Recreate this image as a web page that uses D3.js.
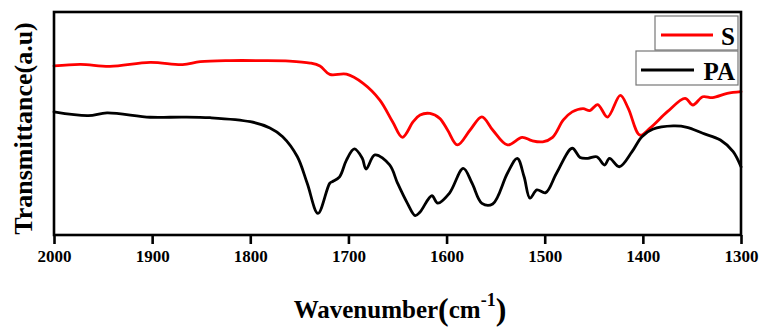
<!DOCTYPE html>
<html>
<head>
<meta charset="utf-8">
<script src="https://cdn.jsdelivr.net/npm/d3@7"></script>
<style>
  body { margin: 0; background: #fff; }
</style>
</head>
<body>
<div id="chart"></div>
<script>
// Wavenumber ticks (cm-1), reversed axis.
const xTicks = [2000, 1900, 1800, 1700, 1600, 1500, 1400, 1300];

// S spectrum: wavenumber / transmittance (a.u).
const sWave = [2000, 1973, 1943, 1902, 1869, 1851, 1821, 1790, 1760, 1739, 1729, 1719, 1702, 1685,
  1668, 1655, 1645, 1634, 1627, 1617, 1607, 1599, 1589, 1576, 1564, 1553, 1538, 1523, 1513, 1502,
  1492, 1481, 1472, 1461, 1454, 1446, 1436, 1423, 1415, 1403, 1393, 1375, 1357, 1349, 1339, 1329,
  1314, 1300];
const sTrans = [75.8, 76.5, 75.6, 77.4, 76.4, 77.7, 78.2, 78.2, 78.0, 77.1, 75.8, 72.0, 72.1, 68.0,
  60.5, 50.8, 43.8, 50.8, 53.8, 54.5, 52.3, 47.1, 40.4, 47.1, 53.0, 47.1, 40.4, 43.8, 42.3, 41.8,
  43.8, 51.6, 55.2, 56.7, 55.8, 58.5, 52.9, 62.6, 56.9, 44.8, 47.8, 55.3, 61.3, 58.3, 62.0, 61.6,
  63.5, 64.3];

// PA spectrum.
const paWave = [2000, 1965, 1946, 1902, 1869, 1841, 1800, 1780, 1767, 1752, 1742, 1731, 1719, 1716,
  1709, 1702, 1694, 1686, 1682, 1673, 1658, 1650, 1640, 1632, 1627, 1615, 1609, 1597, 1583, 1574,
  1564, 1553, 1538, 1528, 1521, 1515, 1508, 1499, 1488, 1472, 1464, 1456, 1447, 1439, 1434, 1424,
  1411, 1401, 1390, 1369, 1355, 1339, 1321, 1308, 1300];
const paTrans = [55.2, 53.5, 54.8, 52.8, 52.9, 52.6, 50.8, 48.0, 44.1, 35.1, 23.2, 9.7, 23.2, 24.0,
  26.1, 33.6, 38.6, 34.5, 29.6, 35.9, 31.4, 23.3, 14.3, 8.7, 10.3, 17.6, 14.3, 18.8, 29.9, 23.2,
  14.2, 13.9, 27.7, 34.4, 26.1, 16.5, 20.2, 19.0, 27.7, 38.9, 34.8, 34.4, 35.1, 31.4, 34.4, 30.6,
  37.4, 44.1, 47.4, 48.9, 48.3, 45.6, 42.6, 37.4, 30.6];

const seriesNames = ["S", "PA"];
const seriesColors = ["#ff0000", "#000000"];

const width = 761, height = 329;
const margin = { top: 12, right: 20, bottom: 94, left: 54 };
const serif = "'Liberation Serif', 'DejaVu Serif', serif";

const svg = d3.select("#chart").append("svg")
  .attr("width", width)
  .attr("height", height)
  .attr("font-family", serif)
  .attr("font-weight", "bold");

const x = d3.scaleLinear()
  .domain([2000, 1300])
  .range([margin.left, width - margin.right]);

const y = d3.scaleLinear()
  .domain([0, 100])
  .range([height - margin.bottom, margin.top]);

// Spectra lines.
const line = d3.line()
  .x(d => x(d[0]))
  .y(d => y(d[1]))
  .curve(d3.curveCatmullRom.alpha(0.5));

const series = [
  d3.zip(sWave, sTrans),
  d3.zip(paWave, paTrans)
];

svg.append("g")
  .selectAll("path")
  .data(series)
  .join("path")
    .attr("fill", "none")
    .attr("stroke", (d, i) => seriesColors[i])
    .attr("stroke-width", 2.8)
    .attr("stroke-linejoin", "round")
    .attr("stroke-linecap", "round")
    .attr("d", line);

// Frame around the plot.
svg.append("rect")
  .attr("x", margin.left)
  .attr("y", margin.top)
  .attr("width", width - margin.left - margin.right)
  .attr("height", height - margin.top - margin.bottom)
  .attr("fill", "none")
  .attr("stroke", "#000")
  .attr("stroke-width", 2.6);

// Bottom axis.
const xAxis = svg.append("g")
  .attr("transform", `translate(0,${height - margin.bottom})`)
  .call(d3.axisBottom(x).tickValues(xTicks).tickFormat(d3.format("d"))
    .tickSize(9).tickSizeOuter(0).tickPadding(6));

xAxis.attr("font-family", serif).attr("font-size", 17);
xAxis.select(".domain").remove();
xAxis.selectAll(".tick line").attr("stroke-width", 2.6);
xAxis.selectAll(".tick text").attr("fill", "#000");

// Axis titles.
const xTitle = svg.append("text")
  .attr("x", 400)
  .attr("y", 318)
  .attr("text-anchor", "middle")
  .attr("font-size", 25)
  .attr("fill", "#000");
xTitle.append("tspan").text("Wavenumber");
xTitle.append("tspan").attr("font-size", 32).attr("dy", 2).text("(");
xTitle.append("tspan").attr("dy", -2).text("cm");
xTitle.append("tspan").attr("font-size", 18).attr("dy", -12).text("-1");
xTitle.append("tspan").attr("font-size", 32).attr("dy", 14).text(")");

svg.append("text")
  .attr("transform", `translate(32,${(margin.top + height - margin.bottom) / 2 + 5}) rotate(-90)`)
  .attr("text-anchor", "middle")
  .attr("font-size", 26)
  .attr("fill", "#000")
  .text("Transmittance(a.u)");

// Legend boxes.
const legendBoxes = [
  { x0: 655, y0: 16, w: 83, h: 34, lx: 661, lw: 52 },
  { x0: 636, y0: 51, w: 102, h: 34, lx: 641, lw: 53 }
];

const legend = svg.append("g")
  .selectAll("g")
  .data(legendBoxes)
  .join("g");

legend.append("rect")
  .attr("x", d => d.x0)
  .attr("y", d => d.y0)
  .attr("width", d => d.w)
  .attr("height", d => d.h)
  .attr("fill", "#fff")
  .attr("stroke", "#777")
  .attr("stroke-width", 1.2);

legend.append("line")
  .attr("x1", d => d.lx)
  .attr("x2", d => d.lx + d.lw)
  .attr("y1", d => d.y0 + d.h / 2 + 2)
  .attr("y2", d => d.y0 + d.h / 2 + 2)
  .attr("stroke", (d, i) => seriesColors[i])
  .attr("stroke-width", 3);

legend.append("text")
  .attr("x", d => d.x0 + d.w - 3)
  .attr("y", d => d.y0 + d.h - 5)
  .attr("text-anchor", "end")
  .attr("font-size", 25)
  .attr("fill", "#000")
  .text((d, i) => seriesNames[i]);
</script>
</body>
</html>
